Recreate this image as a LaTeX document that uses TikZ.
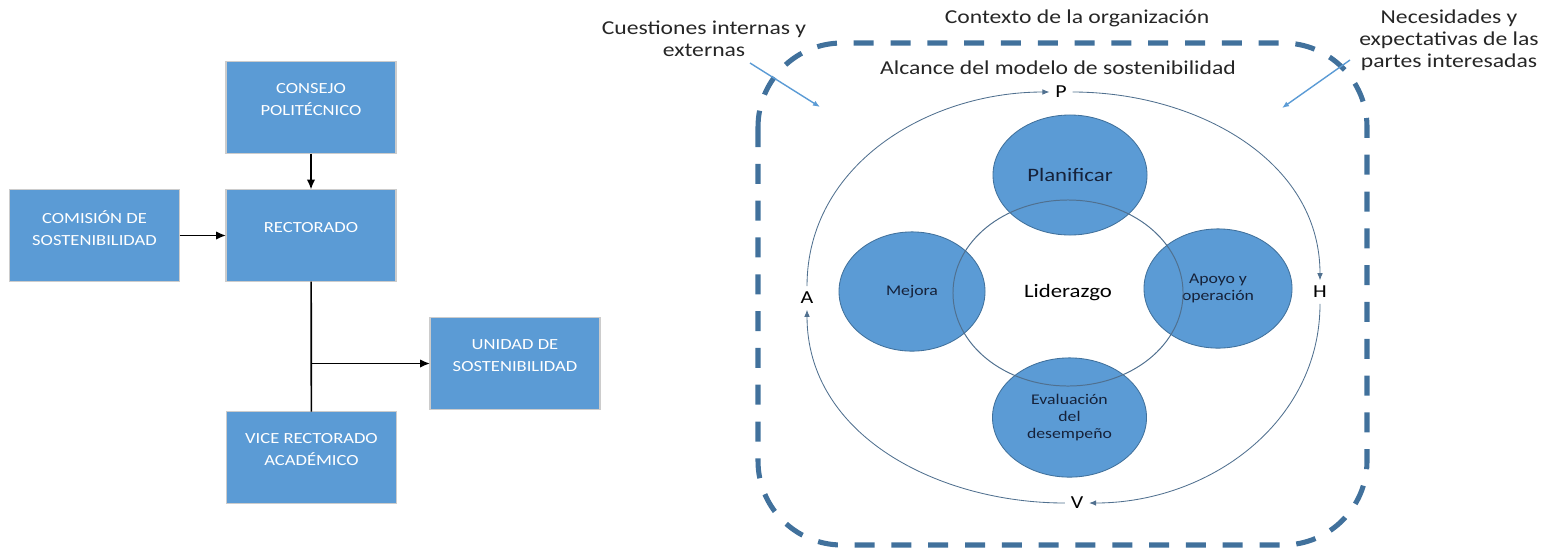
\documentclass[tikz,border=0pt]{standalone}
\usepackage{fontspec}
\setmainfont{Carlito}[FakeStretch=1.2]
\usepackage{tikz}
\usetikzlibrary{shapes.geometric,arrows.meta}
\definecolor{boxblue}{HTML}{5B9BD5}
\definecolor{edgeblue}{HTML}{41719C}
\definecolor{navytext}{HTML}{16223A}
\definecolor{ringgray}{HTML}{50708F}

\begin{document}
\begin{tikzpicture}[x=0.025cm, y=0.025cm,
  orgbox/.style={fill=boxblue, draw=black!20, line width=1pt, minimum width=4.25cm, minimum height=2.3cm, text=white, align=center, font=\fontsize{11}{15.6}\selectfont, outer sep=0pt, text depth=11pt},
  blob/.style={ellipse, fill=boxblue, draw=edgeblue, line width=0.6pt, inner sep=0pt, minimum width=3.8cm, minimum height=2.98cm, text=navytext, align=center, font=\fontsize{10.5}{12.3}\selectfont},
  note/.style={align=center, text=black!85, font=\fontsize{14}{15.8}\selectfont},
  phase/.style={inner sep=4pt, font=\fontsize{13}{15}\selectfont},
  cycle/.style={draw=ringgray, line width=0.6pt, -{Latex[length=5pt,width=4pt]}},
  hint/.style={draw=boxblue, line width=1pt, -{Latex[length=5pt,width=4pt]}},
  flow/.style={line width=1.2pt, -{Latex[length=7pt,width=6pt]}}]
\useasboundingbox (0,0) rectangle (1555,-549);

% organigrama
\node[orgbox] (consejo) at (311,-107.5) {CONSEJO\\POLITÉCNICO};
\node[orgbox] (comision) at (94.5,-235.5) {COMISIÓN DE\\SOSTENIBILIDAD};
\node[orgbox] (rector) at (311,-235.5) {RECTORADO};
\node[orgbox] (unidad) at (515,-363.5) {UNIDAD DE\\SOSTENIBILIDAD};
\node[orgbox] (vice) at (311.5,-457.5) {VICE RECTORADO\\ACADÉMICO};

\draw[flow] (consejo) -- (rector);
\draw[flow] (comision) -- (rector);
\draw[line width=1.2pt] (rector) -- (vice);
\draw[flow] (rector.south |- unidad.west) -- (unidad.west);

% modelo de sostenibilidad
\draw[edgeblue, line width=3.6pt, dash pattern=on 0.5cm off 0.42cm, rounded corners=2.1cm] (758,-43) rectangle (1367,-545);

\node[note] (contexto) at (1077,-18) {Contexto de la organización};
\node[note] (cuestiones) at (704,-39) {Cuestiones internas y\\externas};
\node[note] (necesidades) at (1449,-40) {Necesidades y\\expectativas de las\\partes interesadas};
\node[note] (alcance) at (1058,-68) {Alcance del modelo de sostenibilidad};

\coordinate (cuestiones out) at (750,-63);
\coordinate (cuestiones in) at (820,-107);
\coordinate (necesidades out) at (1350,-60);
\coordinate (necesidades in) at (1282,-108);
\draw[hint] (cuestiones out) -- (cuestiones in);
\draw[hint] (necesidades out) -- (necesidades in);

\node[phase] (P) at (1061,-92) {P};
\node[phase] (H) at (1320,-292) {H};
\node[phase] (V) at (1077,-503) {V};
\node[phase] (A) at (807,-298) {A};
\draw[cycle] (A.north) to[out=90,in=180] (P.west);
\draw[cycle] (P.east) to[out=0,in=90] (H.north);
\draw[cycle] (H.south) to[out=-90,in=0] (V.east);
\draw[cycle] (V.west) to[out=180,in=-90] (A.south);

\node[blob, minimum width=3.85cm, minimum height=3cm, font=\fontsize{13.5}{15}\selectfont] (plan) at (1070,-175) {Planificar};
\node[blob, minimum width=3.65cm] (mejora) at (912,-291.5) {Mejora};
\node[blob, minimum width=3.7cm] (apoyo) at (1218,-288.5) {Apoyo y\\operación};
\node[blob, minimum width=3.85cm] (eval) at (1069.5,-417.5) {Evaluación\\del\\desempeño};
\node[ellipse, draw=ringgray, line width=0.7pt, minimum width=5.75cm, minimum height=4.65cm, font=\fontsize{13.5}{15}\selectfont] (lider) at (1068,-293) {Liderazgo};
\end{tikzpicture}
\end{document}
